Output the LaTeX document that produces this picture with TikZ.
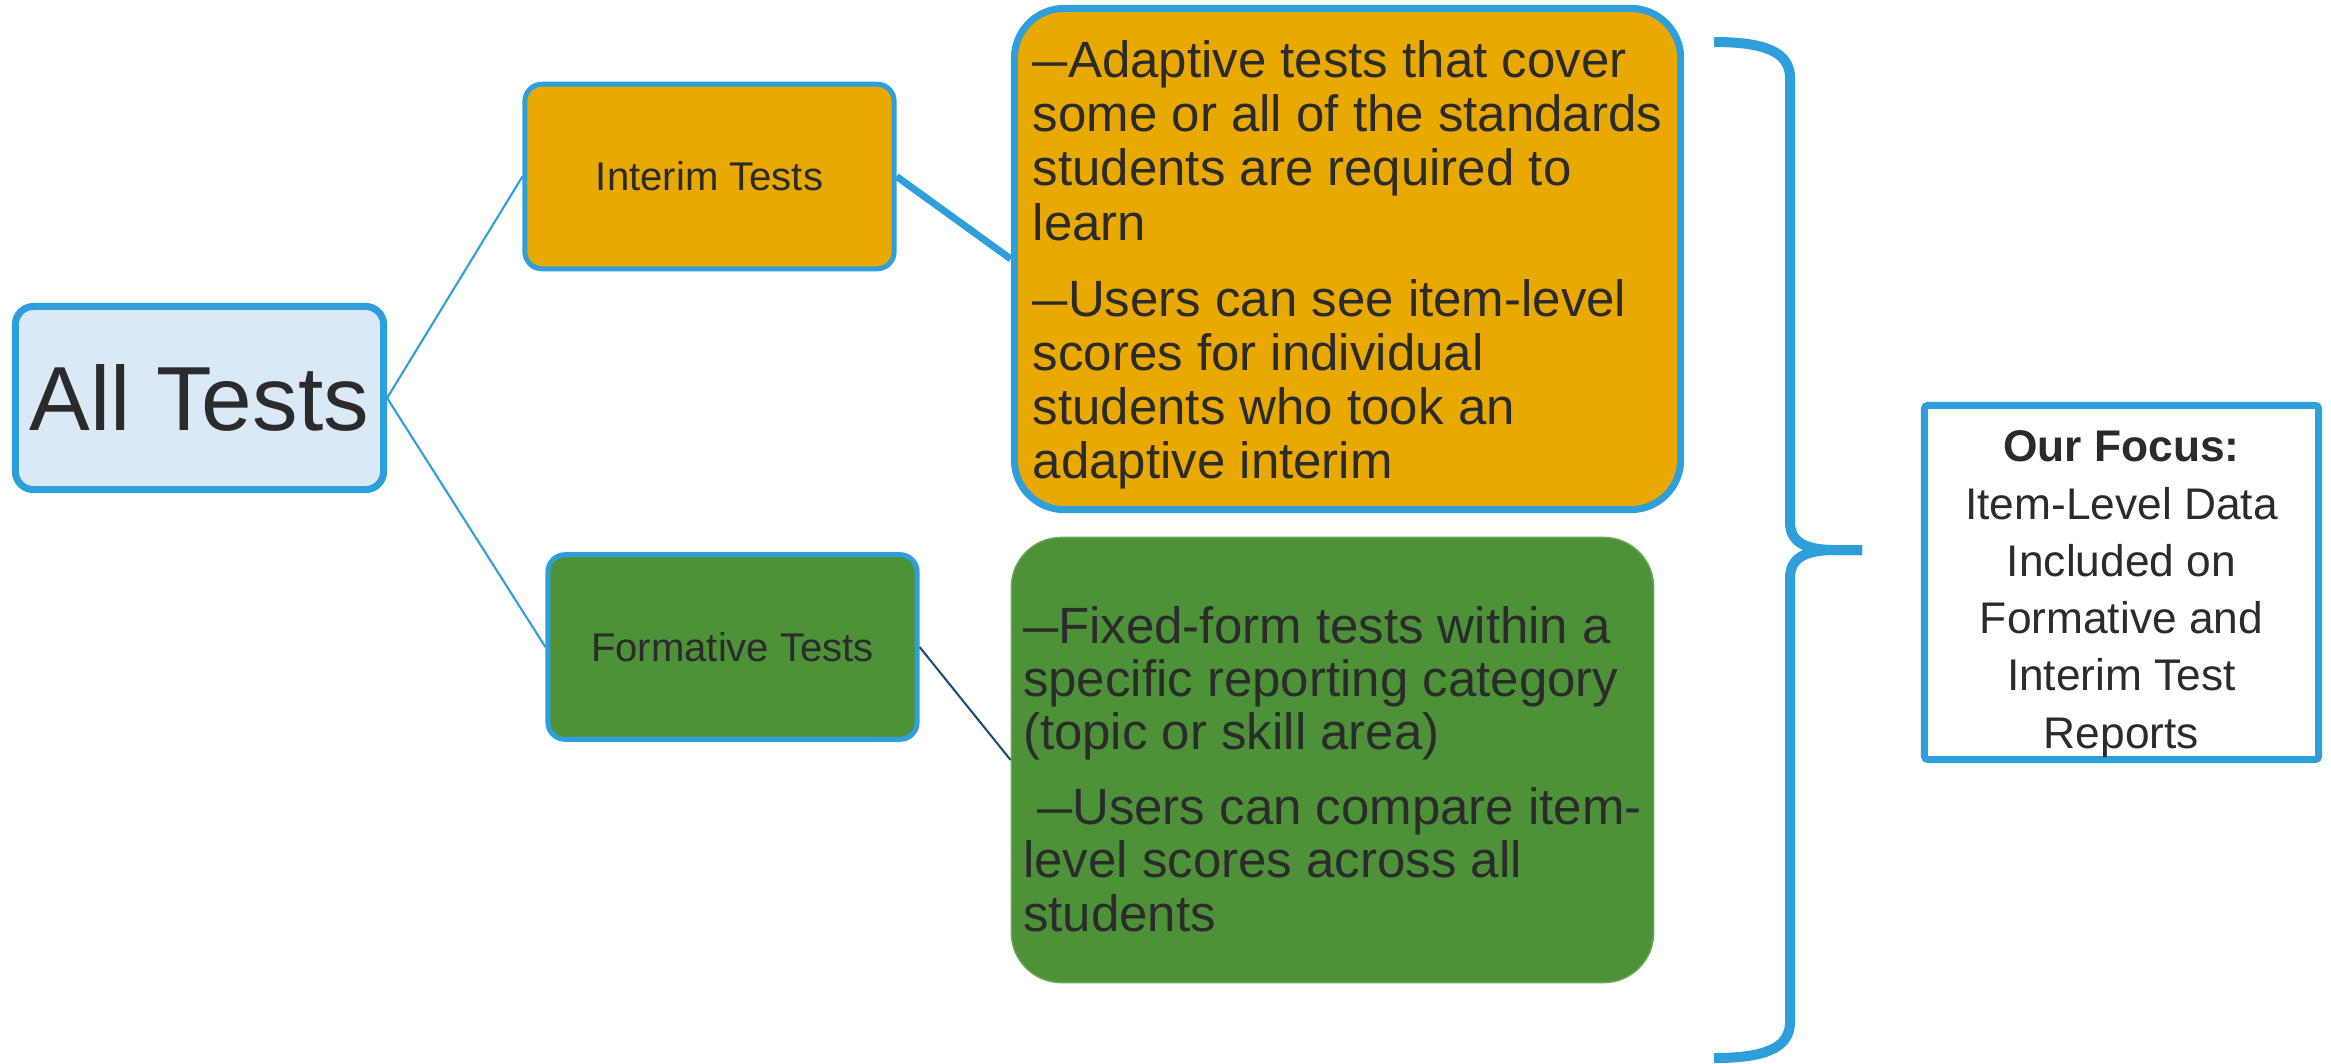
\documentclass[tikz,border=0pt]{standalone}
\usepackage{fontspec}
\setmainfont{Liberation Sans}
\definecolor{Sky}{HTML}{2E9FDA}
\definecolor{Pale}{HTML}{DAE9F6}
\definecolor{Gold}{HTML}{E9A900}
\definecolor{Leaf}{HTML}{4D9238}
\definecolor{LeafEdge}{HTML}{6AAA55}
\definecolor{Ink}{HTML}{2B2B2B}
\definecolor{Deep}{HTML}{1F4E79}
\newcommand\shortdash{\scalebox{0.69}[1]{—}}

\begin{document}
\begin{tikzpicture}[x=0.01cm,y=-0.01cm,
    box/.style={draw=Sky,text=Ink,inner sep=0pt},
    root/.style={box,fill=Pale,line width=2pt,rounded corners=0.18cm,minimum width=3.68cm,minimum height=1.83cm,font=\fontsize{25.9}{30}\selectfont},
    tier/.style={box,line width=1.42pt,rounded corners=0.17cm,minimum width=3.69cm,minimum height=1.845cm,font=\fontsize{11.4}{13}\selectfont},
    note/.style={box,rounded corners=0.5cm,align=left},
    focus/.style={box,fill=white,line width=2pt,rounded corners=1pt,minimum width=3.94cm,minimum height=3.54cm,align=center,font=\fontsize{12.6}{16.3}\selectfont}]
    \useasboundingbox (0,0) rectangle (2331,1063);

    \node[root] (all) at (199.5,398) {All Tests};
    \node[tier,fill=Gold] (interim) at (709.5,176.5) {Interim Tests};
    \node[tier,fill=Leaf] (formative) at (732.5,647) {Formative Tests};

    \node[note,fill=Gold,line width=2pt,minimum width=6.66cm,minimum height=5.01cm,font=\fontsize{14.5}{15.4}\selectfont] (interimnote) at (1347.5,259)
      {\rule{0pt}{13.9pt}\shortdash Adaptive tests that cover\\some or all of the standards\\students are required to\\learn\\[6.3pt]\shortdash Users can see item-level\\scores for individual\\students who took an\\adaptive interim};
    \node[note,fill=Leaf,draw=LeafEdge,line width=0.4pt,minimum width=6.42cm,minimum height=4.45cm,font=\fontsize{14.5}{15.2}\selectfont] (formativenote) at (1332.5,760)
      {\rule{0pt}{15.6pt}\shortdash Fixed-form tests within a\\specific reporting category\\(topic or skill area)\\[6pt]\hspace{0.14cm}\shortdash Users can compare item-\\level scores across all\\students};

    \node[focus] (ourfocus) at (2121.5,582.5)
      {\rule{0pt}{15.4pt}\textbf{Our Focus:}\\Item-Level Data\\Included on\\Formative and\\Interim Test\\Reports};

    \foreach \from/\to/\look in {all/interim/{Sky,line width=0.6pt},
      all/formative/{Sky,line width=0.6pt},
      interim/interimnote/{Sky,line width=2pt},
      formative/formativenote/{Deep,line width=0.6pt}}
    {
      \expandafter\draw\expandafter[\look] (\from.east) -- (\to.west);
    }

    \draw[Sky,line width=2.85pt] (1714,42) .. controls (1765,42) and (1790,52) .. (1790,78) -- (1790,522)
      .. controls (1790,542) and (1805,550) .. (1835,550) -- (1862,550);
    \draw[Sky,line width=2.85pt] (1862,550) -- (1835,550) .. controls (1805,550) and (1790,558) .. (1790,578)
      -- (1790,1022) .. controls (1790,1048) and (1765,1058) .. (1714,1058);
\end{tikzpicture}
\end{document}
